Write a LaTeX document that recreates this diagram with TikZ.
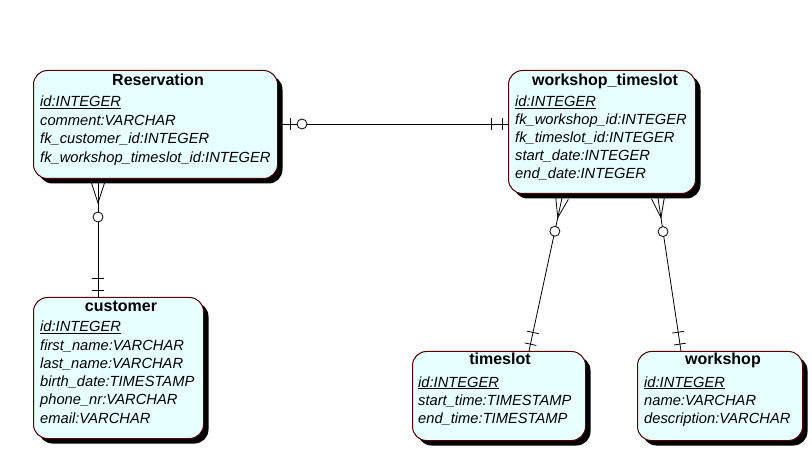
\documentclass[tikz,border=0pt]{standalone}
\usepackage{fontspec}
\setmainfont{Liberation Sans}
\usetikzlibrary{calc,shadows}
\definecolor{entfill}{HTML}{E8FFFF}
\definecolor{entline}{HTML}{500000}
\tikzset{
  entity/.style={draw=entline, line width=1pt, fill=entfill, rounded corners=14pt,
    anchor=north west, inner sep=0pt,
    drop shadow={shadow xshift=5pt, shadow yshift=-5pt, fill=black, opacity=1}},
  etitle/.style={anchor=base, inner sep=0pt, font=\fontsize{16}{18}\selectfont\bfseries},
  eattr/.style={anchor=base west, inner sep=0pt, font=\fontsize{14.7}{18}\selectfont\itshape},
  rel/.style={draw=black, line width=0.8pt},
  ring/.style={draw=black, line width=0.8pt, fill=white}
}
\begin{document}
\begin{tikzpicture}[x=1pt,y=-1pt]
\useasboundingbox (0,0) rectangle (812,457);

% connector anchor points (set from entity geometry)
\coordinate (resE) at (281,124);
\coordinate (wtW) at (508,124);
\coordinate (resS) at (98,183);
\coordinate (cuN) at (98,297);
\coordinate (wtS1) at (562,198);
\coordinate (tsN) at (529,351);
\coordinate (wtS2) at (658,198);
\coordinate (wsN) at (681,351);

% Reservation -- workshop_timeslot
\draw[rel] (resE) -- (wtW);
\draw[rel] ($(resE)!9pt!(wtW)$) ++(0,-6) -- ++(0,12);
\draw[ring] ($(resE)!21pt!(wtW)$) circle (5pt);
\draw[rel] ($(wtW)!6pt!(resE)$) ++(0,-6) -- ++(0,12);
\draw[rel] ($(wtW)!17pt!(resE)$) ++(0,-6) -- ++(0,12);

% crow's-foot, zero-or-many to exactly-one
\foreach \a/\b in {resS/cuN, wtS1/tsN, wtS2/wsN}{
  \coordinate (cf) at ($(\a)!20pt!(\b)$);
  \draw[rel] (\a) -- (\b);
  \draw[rel] ($(\a)!6.5pt!90:(\b)$) -- (cf) -- ($(\a)!6.5pt!-90:(\b)$);
  \draw[ring] ($(\a)!34pt!(\b)$) circle (5pt);
  \coordinate (t1) at ($(\b)!7pt!(\a)$);
  \coordinate (t2) at ($(\b)!19pt!(\a)$);
  \draw[rel] ($(t1)!6pt!90:(\b)$) -- ($(t1)!6pt!-90:(\b)$);
  \draw[rel] ($(t2)!6pt!90:(\b)$) -- ($(t2)!6pt!-90:(\b)$);
}

% entities
\node[entity, minimum width=244pt, minimum height=108pt] (res) at (33,70) {};
\node[entity, minimum width=187pt, minimum height=123pt] (wt) at (508,70) {};
\node[entity, minimum width=170pt, minimum height=141pt] (cu) at (33,297) {};
\node[entity, minimum width=173pt, minimum height=89pt] (ts) at (412,351) {};
\node[entity, minimum width=165pt, minimum height=89pt] (ws) at (637,351) {};

% Reservation
\node[etitle] (resT) at (158,85.5) {Reservation};
\node[eattr] (res1) at (40,107) {\underline{id:INTEGER}};
\node[eattr] (res2) at (40,125.5) {comment:VARCHAR};
\node[eattr] (res3) at (40,144) {fk\_customer\_id:INTEGER};
\node[eattr] (res4) at (40,162.5) {fk\_workshop\_timeslot\_id:INTEGER};

% workshop_timeslot
\node[etitle] (wtT) at (605,85.5) {workshop\_timeslot};
\node[eattr] (wt1) at (515,107) {\underline{id:INTEGER}};
\node[eattr] (wt2) at (515,125) {fk\_workshop\_id:INTEGER};
\node[eattr] (wt3) at (515,143) {fk\_timeslot\_id:INTEGER};
\node[eattr] (wt4) at (515,161) {start\_date:INTEGER};
\node[eattr] (wt5) at (515,179) {end\_date:INTEGER};

% customer
\node[etitle] (cuT) at (121,311.5) {customer};
\node[eattr] (cu1) at (40,332) {\underline{id:INTEGER}};
\node[eattr] (cu2) at (40,350.2) {first\_name:VARCHAR};
\node[eattr] (cu3) at (40,368.4) {last\_name:VARCHAR};
\node[eattr] (cu4) at (40,386.6) {birth\_date:TIMESTAMP};
\node[eattr] (cu5) at (40,404.8) {phone\_nr:VARCHAR};
\node[eattr] (cu6) at (40,423) {email:VARCHAR};

% timeslot
\node[etitle] (tsT) at (500,364.5) {timeslot};
\node[eattr] (ts1) at (418,387) {\underline{id:INTEGER}};
\node[eattr] (ts2) at (418,405) {start\_time:TIMESTAMP};
\node[eattr] (ts3) at (418,423) {end\_time:TIMESTAMP};

% workshop
\node[etitle] (wsT) at (723,364.5) {workshop};
\node[eattr] (ws1) at (644,387) {\underline{id:INTEGER}};
\node[eattr] (ws2) at (644,405) {name:VARCHAR};
\node[eattr] (ws3) at (644,423) {description:VARCHAR};
\end{tikzpicture}
\end{document}
